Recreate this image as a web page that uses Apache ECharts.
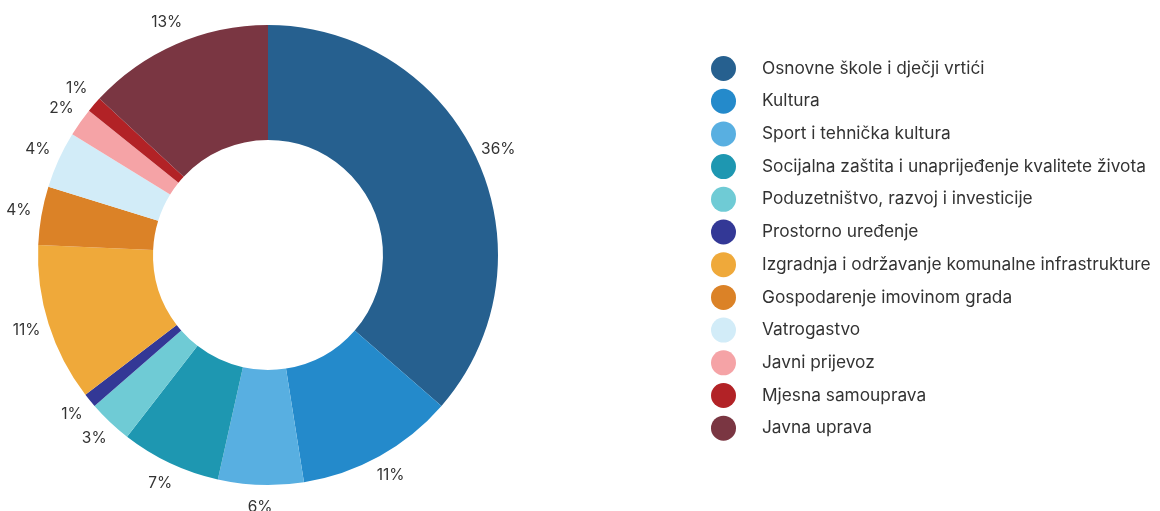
<!DOCTYPE html>
<html>
<head>
<meta charset="utf-8">
<script src="https://cdn.jsdelivr.net/npm/echarts@6/dist/echarts.min.js"></script>
<style>
  html, body { margin: 0; padding: 0; background: #fff; }
  #chart { width: 1160px; height: 511px; }
</style>
</head>
<body>
<div id="chart"></div>
<script>
// kategorije i udjeli (%) procijenjeni s grafa
const categories = [
  'Osnovne škole i dječji vrtići',
  'Kultura',
  'Sport i tehnička kultura',
  'Socijalna zaštita i unaprijeđenje kvalitete života',
  'Poduzetništvo, razvoj i investicije',
  'Prostorno uređenje',
  'Izgradnja i održavanje komunalne infrastrukture',
  'Gospodarenje imovinom grada',
  'Vatrogastvo',
  'Javni prijevoz',
  'Mjesna samouprava',
  'Javna uprava'
];
const shares = [36.4, 11.1, 6.0, 7.0, 3.1, 1.0, 11.1, 4.1, 4.0, 2.0, 1.1, 13.1];
const colors = [
  '#26608f', '#248acb', '#58afe1', '#1e97b1', '#6fcbd5', '#333896',
  '#efa93a', '#db8227', '#d2ecf8', '#f5a3a6', '#b22226', '#7a3642'
];

const FONT = 'Inter, "Noto Sans", sans-serif';
const pieData = categories.map((name, i) => ({ name, value: shares[i] }));

const el = document.getElementById('chart');
const chart = echarts.init(el, null, { renderer: 'canvas' });

const option = {
  animation: false,
  color: colors,
  legend: {
    orient: 'vertical',
    left: 706,
    top: 51,
    itemWidth: 25,
    itemHeight: 25,
    itemGap: 7.7,
    icon: 'circle',
    textStyle: { fontFamily: FONT, fontSize: 17.3, color: '#333', padding: [0, 0, 0, 21] },
    data: categories
  },
  series: [
    {
      // prsten
      type: 'pie',
      center: [268, 255],
      radius: [115, 230],
      startAngle: 90,
      clockwise: true,
      data: pieData,
      label: { show: false },
      labelLine: { show: false },
      itemStyle: { borderWidth: 0 },
      emphasis: { disabled: true }
    },
    {
      // postoci, centrirani oko prstena
      type: 'pie',
      center: [268, 254],
      radius: [242, 258],
      startAngle: 90,
      clockwise: true,
      silent: true,
      data: pieData,
      itemStyle: { color: 'rgba(0,0,0,0)', borderWidth: 0 },
      label: {
        show: true,
        position: 'inside',
        fontFamily: FONT,
        fontSize: 15.5,
        color: '#333',
        formatter: p => Math.round(p.percent) + '%'
      },
      labelLine: { show: false },
      emphasis: { disabled: true }
    }
  ]
};

chart.setOption(option);
</script>
</body>
</html>
